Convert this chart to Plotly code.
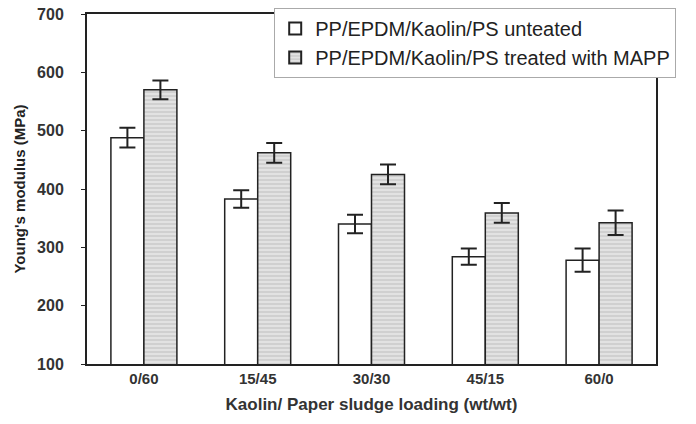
import plotly.graph_objects as go

categories = ["0/60", "15/45", "30/30", "45/15", "60/0"]
untreated = [488, 383, 340, 284, 278]
untreated_err = [17, 15, 16, 14, 20]
treated = [570, 462, 425, 359, 342]
treated_err = [16, 17, 17, 17, 21]
y_ticks = [100, 200, 300, 400, 500, 600, 700]

FONT = "Liberation Sans, Arial, sans-serif"

fig = go.Figure()
fig.add_trace(go.Bar(
    x=categories, y=untreated, name="PP/EPDM/Kaolin/PS unteated",
    marker=dict(color="white", line=dict(color="#222", width=1.5)),
    error_y=dict(type="data", array=untreated_err, color="#222", thickness=2, width=8),
))
fig.add_trace(go.Bar(
    x=categories, y=treated, name="PP/EPDM/Kaolin/PS treated with MAPP",
    marker=dict(color="#dcdcdc", line=dict(color="#222", width=1.5),
                pattern=dict(shape="-", bgcolor="#e2e2e2", fgcolor="#9a9a9a", size=4, solidity=0.25)),
    error_y=dict(type="data", array=treated_err, color="#222", thickness=2, width=8),
))

fig.update_layout(
    width=696, height=424,
    margin=dict(l=87, r=40, t=14, b=60, autoexpand=False),
    paper_bgcolor="white", plot_bgcolor="white",
    barmode="group", bargap=0.42, bargroupgap=0,
    showlegend=True,
    legend=dict(x=0.329, y=1.017, xanchor="left", yanchor="top",
                bgcolor="white", bordercolor="#aaa", borderwidth=1,
                font=dict(family=FONT, size=20, color="#222"),
                tracegroupgap=0, itemsizing="constant"),
    xaxis=dict(showline=True, linecolor="#222", linewidth=2, mirror=True, automargin=False,
               ticks="", tickfont=dict(family=FONT, size=15, color="#333", weight="bold"),
               title=dict(text="Kaolin/ Paper sludge loading (wt/wt)",
                          font=dict(family=FONT, size=17, color="#333", weight="bold"),
                          standoff=12)),
    yaxis=dict(range=[100, 700], tickvals=y_ticks, showgrid=False, zeroline=False, automargin=False,
               showline=True, linecolor="#222", linewidth=2, mirror=True,
               ticks="outside", ticklen=4, tickcolor="#222", ticklabelstandoff=14,
               ticklabeloverflow="allow",
               tickfont=dict(family=FONT, size=16, color="#333", weight="bold"),
               title=dict(text="Young's modulus (MPa)",
                          font=dict(family=FONT, size=15, color="#222", weight="bold"),
                          standoff=8)),
)

fig.write_html(
    "out.html",
    config={"displayModeBar": False},
    post_script="document.body.style.margin='0';document.documentElement.style.overflow='hidden';",
)
